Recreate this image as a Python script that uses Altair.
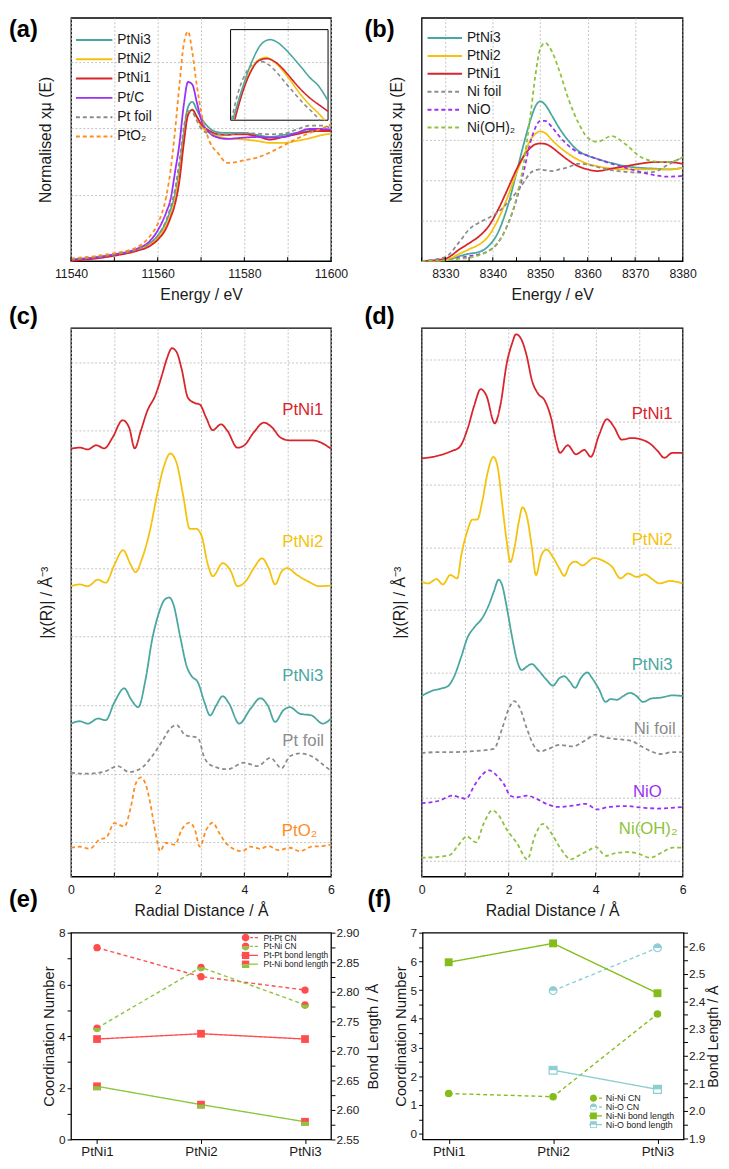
import altair as alt
import pandas as pd

FONT = "Liberation Sans"
TXT = "#1a1a1a"
GRID = "#b4b4b4"
TEAL, YEL, RED, PUR, GRAY, ORA, LIME = "#4aa7a0", "#f4c20d", "#d7252b", "#9b2ff5", "#8c8c8c", "#ff8c1f", "#8dc33c"
E_RED, E_GRN, F_GRN, F_BLU = "#ff4d4d", "#8cc63f", "#84bd1a", "#8ccfd3"
SOLID, DASH = [1, 0], [4, 3]
W_L, W_R = 264, 265
H1, H2, H3 = 247, 557, 210

# ---------------- (a) Pt L3-edge XANES ----------------
A_E = [11540, 11550, 11555, 11558, 11560, 11562, 11563, 11564, 11565, 11566, 11567, 11568, 11569,
       11570, 11572, 11574, 11576, 11578, 11580, 11583, 11586, 11589, 11592, 11595, 11598, 11600]
A_PTNI3 = [0.01, 0.05, 0.085, 0.13, 0.19, 0.30, 0.39, 0.50, 0.69, 0.96, 1.16, 1.20, 1.14, 1.08, 1.00, 0.97,
           0.965, 0.965, 0.965, 0.95, 0.935, 0.95, 0.965, 0.98, 0.985, 0.985]
A_PTNI2 = [0.005, 0.045, 0.08, 0.12, 0.17, 0.27, 0.35, 0.46, 0.64, 0.91, 1.11, 1.14, 1.08, 1.02, 0.965, 0.94,
           0.925, 0.92, 0.915, 0.905, 0.89, 0.89, 0.905, 0.925, 0.95, 0.96]
A_PTNI1 = [0.0, 0.04, 0.075, 0.11, 0.16, 0.25, 0.33, 0.43, 0.60, 0.88, 1.10, 1.14, 1.09, 1.035, 0.98, 0.955,
           0.95, 0.955, 0.955, 0.94, 0.915, 0.935, 0.955, 0.975, 0.98, 0.98]
A_PTC = [0.01, 0.05, 0.09, 0.145, 0.23, 0.37, 0.47, 0.67, 0.88, 1.17, 1.35, 1.33, 1.20, 1.07, 0.965, 0.93,
         0.92, 0.925, 0.93, 0.935, 0.93, 0.935, 0.965, 0.995, 0.995, 0.99]
A_PTFOIL = [0.01, 0.05, 0.085, 0.13, 0.19, 0.31, 0.41, 0.54, 0.75, 1.00, 1.13, 1.12, 1.06, 1.00, 0.96, 0.955,
            0.955, 0.96, 0.965, 0.96, 0.955, 0.96, 0.99, 1.02, 1.02, 1.00]
A_PTO2 = [0.02, 0.06, 0.10, 0.18, 0.28, 0.49, 0.69, 0.98, 1.32, 1.63, 1.73, 1.57, 1.33, 1.13, 0.90, 0.81,
          0.74, 0.745, 0.76, 0.78, 0.82, 0.87, 0.92, 0.965, 1.00, 1.03]
A_ORDER = ["PtNi3", "PtNi2", "PtNi1", "Pt/C", "Pt foil", "PtO₂"]
A_COLORS = [TEAL, YEL, RED, PUR, GRAY, ORA]
A_DASHES = [SOLID, SOLID, SOLID, SOLID, DASH, DASH]
A_TICKS = list(range(11540, 11601, 10))

# inset of (a)
INS_PTNI3_E = [11563.26, 11564.31, 11565.42, 11566.54, 11567.47, 11568.22, 11569.15, 11570.09, 11571.02, 11571.95, 11572.88, 11574.0]
INS_PTNI3 = [0.942, 1.044, 1.135, 1.194, 1.207, 1.199, 1.176, 1.146, 1.114, 1.081, 1.055, 1.004]
INS_PTNI2_E = [11563.37, 11564.31, 11565.24, 11566.17, 11566.99, 11567.85, 11568.78, 11569.71, 11570.83, 11571.76, 11572.88, 11573.63]
INS_PTNI2 = [0.942, 1.039, 1.103, 1.140, 1.148, 1.135, 1.108, 1.073, 1.028, 0.996, 0.964, 0.940]
INS_PTNI1_E = [11563.48, 11564.31, 11565.24, 11566.17, 11567.10, 11568.03, 11568.97, 11569.90, 11571.02, 11572.14, 11573.26, 11574.0]
INS_PTNI1 = [0.942, 1.028, 1.098, 1.137, 1.144, 1.133, 1.108, 1.076, 1.039, 1.009, 0.985, 0.969]
INS_PTFOIL_E = [11563.11, 11563.93, 11564.86, 11565.80, 11566.36, 11567.29, 11568.22, 11569.15, 11570.09, 11571.20, 11572.32, 11573.07]
INS_PTFOIL = [0.942, 1.039, 1.103, 1.130, 1.135, 1.124, 1.098, 1.065, 1.033, 0.996, 0.964, 0.940]

# ---------------- (b) Ni K-edge XANES ----------------
B_E = [8325, 8330, 8333, 8335, 8337, 8339, 8341, 8343, 8345, 8346.5, 8348, 8349, 8350, 8351, 8352.5,
       8354, 8356, 8358, 8360, 8362, 8365, 8368, 8371, 8374, 8377, 8380]
B_PTNI3 = [0.0, 0.01, 0.06, 0.09, 0.11, 0.18, 0.34, 0.65, 1.09, 1.44, 1.75, 1.91, 1.97, 1.93, 1.79, 1.64,
           1.48, 1.36, 1.30, 1.26, 1.21, 1.17, 1.15, 1.14, 1.13, 1.15]
B_PTNI2 = [0.0, 0.01, 0.09, 0.145, 0.20, 0.30, 0.50, 0.77, 1.09, 1.30, 1.50, 1.57, 1.60, 1.58, 1.49, 1.41,
           1.32, 1.25, 1.20, 1.17, 1.14, 1.13, 1.13, 1.13, 1.13, 1.15]
B_PTNI1 = [0.0, 0.03, 0.145, 0.22, 0.30, 0.42, 0.62, 0.87, 1.13, 1.29, 1.40, 1.44, 1.45, 1.445, 1.40, 1.33,
           1.24, 1.17, 1.13, 1.11, 1.14, 1.17, 1.20, 1.22, 1.22, 1.20]
B_NIFOIL = [0.0, 0.05, 0.24, 0.39, 0.47, 0.53, 0.60, 0.71, 0.85, 0.97, 1.09, 1.12, 1.13, 1.12, 1.11, 1.13,
            1.16, 1.20, 1.19, 1.16, 1.12, 1.10, 1.09, 1.10, 1.19, 1.28]
B_NIO = [0.0, 0.01, 0.04, 0.06, 0.08, 0.12, 0.22, 0.43, 0.76, 1.10, 1.48, 1.65, 1.73, 1.73, 1.65, 1.54,
         1.42, 1.34, 1.30, 1.26, 1.20, 1.15, 1.10, 1.06, 1.04, 1.05]
B_NIOH2 = [0.0, 0.01, 0.03, 0.04, 0.07, 0.12, 0.22, 0.43, 0.78, 1.20, 1.83, 2.30, 2.62, 2.69, 2.58, 2.35,
           1.99, 1.71, 1.52, 1.47, 1.54, 1.44, 1.29, 1.23, 1.22, 1.28]
B_ORDER = ["PtNi3", "PtNi2", "PtNi1", "Ni foil", "NiO", "Ni(OH)₂"]
B_COLORS = [TEAL, YEL, RED, GRAY, PUR, LIME]
B_DASHES = [SOLID, SOLID, SOLID, DASH, DASH, DASH]
B_TICKS = list(range(8325, 8381, 5))

# ---------------- (c) Pt FT-EXAFS ----------------
C_PTNI1_R = [0, 0.2, 0.39, 0.58, 0.77, 0.96, 1.19, 1.34, 1.47, 1.61, 1.76, 1.95, 2.1, 2.21, 2.33, 2.44, 2.55,
             2.7, 2.86, 2.97, 3.12, 3.27, 3.46, 3.61, 3.84, 3.99, 4.22, 4.45, 4.64, 4.83, 5.05, 5.58, 6.0]
C_PTNI1 = [12.48, 12.51, 12.46, 12.58, 12.49, 12.81, 13.31, 13.10, 12.49, 13.0, 13.58, 14.05, 14.63, 15.10,
           15.41, 15.29, 14.82, 13.96, 13.81, 13.77, 13.38, 13.02, 13.19, 13.0, 12.51, 12.57, 12.96, 13.24,
           13.1, 12.81, 12.72, 12.72, 12.48]
C_PTNI2_R = [0, 0.2, 0.39, 0.62, 0.8, 1.0, 1.2, 1.38, 1.49, 1.64, 1.83, 1.98, 2.14, 2.29, 2.44, 2.59, 2.74,
             2.89, 3.01, 3.16, 3.27, 3.5, 3.69, 3.84, 4.03, 4.22, 4.41, 4.56, 4.71, 4.86, 4.99, 5.2, 5.47, 5.73, 6.0]
C_PTNI2 = [8.47, 8.52, 8.47, 8.66, 8.57, 9.09, 9.52, 9.09, 8.88, 9.28, 10.14, 11.1, 11.95, 12.34, 12.05,
           11.1, 10.14, 10.14, 9.95, 9.09, 8.76, 9.14, 8.9, 8.47, 8.61, 9.0, 9.28, 9.0, 8.52, 8.9, 9.0, 8.81,
           8.61, 8.47, 8.49]
C_PTNI3_R = [0, 0.2, 0.39, 0.62, 0.8, 1.0, 1.23, 1.38, 1.55, 1.72, 1.87, 2.02, 2.17, 2.27, 2.36, 2.52, 2.67,
             2.78, 2.93, 3.08, 3.21, 3.35, 3.5, 3.65, 3.88, 4.14, 4.37, 4.54, 4.71, 4.9, 5.05, 5.28, 5.55, 5.81, 6.0]
C_PTNI3 = [4.46, 4.53, 4.46, 4.61, 4.56, 5.08, 5.49, 5.18, 4.94, 5.75, 6.9, 7.66, 8.09, 8.14, 7.95, 6.99,
           6.13, 5.85, 5.66, 5.08, 4.7, 4.99, 5.26, 5.04, 4.46, 4.89, 5.2, 4.99, 4.51, 4.85, 4.94, 4.75, 4.7,
           4.46, 4.61]
C_PTFOIL_R = [0, 0.36, 0.77, 1.08, 1.34, 1.64, 1.87, 2.1, 2.29, 2.44, 2.63, 2.93, 3.08, 3.27, 3.61, 3.99,
              4.3, 4.6, 4.86, 5.05, 5.28, 5.55, 5.81, 6.0]
C_PTFOIL = [3.03, 3.0, 3.06, 3.22, 3.05, 3.18, 3.51, 3.94, 4.32, 4.42, 4.13, 4.04, 3.46, 3.22, 3.13, 3.32,
            3.22, 3.46, 3.16, 3.51, 3.59, 3.51, 3.27, 3.08]
C_PTO2_R = [0, 0.2, 0.43, 0.66, 0.81, 1.0, 1.23, 1.38, 1.49, 1.61, 1.72, 1.83, 1.95, 2.06, 2.17, 2.4, 2.55,
            2.74, 2.86, 2.97, 3.12, 3.27, 3.42, 3.61, 3.95, 4.14, 4.37, 4.56, 4.79, 5.05, 5.28, 5.55, 5.81, 6.0]
C_PTO2 = [0.84, 0.87, 0.81, 1.08, 1.13, 1.56, 1.46, 2.03, 2.7, 2.89, 2.7, 2.13, 1.27, 0.74, 0.98, 0.93, 1.36,
          1.57, 1.36, 0.87, 1.36, 1.57, 1.27, 0.93, 0.74, 0.87, 0.81, 0.89, 0.77, 0.84, 0.74, 0.87, 0.89, 0.93]
C_ORDER = ["PtNi1", "PtNi2", "PtNi3", "Pt foil", "PtO₂"]
C_COLORS = [RED, YEL, TEAL, GRAY, ORA]
C_DASHES = [SOLID, SOLID, SOLID, DASH, DASH]
C_LAB_X = [5.82, 5.82, 5.82, 5.84, 5.68]
C_LAB_Y = [13.62, 9.76, 5.84, 3.95, 1.32]

# ---------------- (d) Ni FT-EXAFS ----------------
D_PTNI1_R = [0, 0.26, 0.49, 0.68, 0.87, 1.06, 1.21, 1.36, 1.49, 1.68, 1.81, 1.96, 2.08, 2.17, 2.28, 2.42,
             2.53, 2.68, 2.83, 2.98, 3.09, 3.18, 3.36, 3.55, 3.74, 3.89, 4.08, 4.26, 4.42, 4.6, 4.83, 5.06,
             5.28, 5.43, 5.58, 5.77, 6.0]
D_PTNI1 = [13.34, 13.39, 13.47, 13.57, 13.7, 14.3, 15.03, 15.55, 15.34, 14.46, 15.03, 16.39, 17.01, 17.3,
           17.17, 16.59, 15.86, 15.4, 15.19, 14.61, 13.89, 13.52, 13.76, 13.47, 13.61, 13.39, 14.09, 14.59,
           14.35, 13.94, 13.99, 13.94, 13.78, 13.57, 13.36, 13.52, 13.52]
D_PTNI2_R = [0, 0.15, 0.34, 0.49, 0.66, 0.82, 0.91, 1.04, 1.17, 1.28, 1.4, 1.51, 1.65, 1.75, 1.85, 1.96,
             2.04, 2.13, 2.23, 2.32, 2.42, 2.53, 2.63, 2.75, 2.87, 3.02, 3.17, 3.28, 3.4, 3.53, 3.7, 3.96,
             4.23, 4.38, 4.57, 4.75, 4.94, 5.13, 5.28, 5.47, 5.7, 6.0]
D_PTNI2 = [9.41, 9.35, 9.49, 9.32, 9.62, 9.51, 10.24, 10.97, 11.39, 11.39, 12.01, 12.84, 13.39, 13.05,
           11.91, 10.66, 10.03, 10.45, 11.28, 11.78, 11.49, 10.55, 9.62, 10.24, 10.43, 10.19, 9.82, 9.59,
           9.93, 10.05, 9.93, 10.16, 10.03, 9.88, 9.51, 9.67, 9.56, 9.64, 9.51, 9.35, 9.43, 9.35]
D_PTNI3_R = [0, 0.23, 0.42, 0.6, 0.75, 0.91, 1.06, 1.21, 1.4, 1.55, 1.66, 1.77, 1.85, 1.96, 2.08, 2.19, 2.3,
             2.42, 2.53, 2.68, 2.87, 3.02, 3.17, 3.28, 3.4, 3.53, 3.66, 3.81, 3.92, 4.08, 4.23, 4.34, 4.49,
             4.64, 4.79, 4.94, 5.09, 5.28, 5.51, 5.77, 6.0]
D_PTNI3 = [5.76, 5.92, 5.99, 6.07, 6.39, 7.01, 7.64, 7.95, 8.26, 8.68, 9.09, 9.47, 9.3, 8.57, 7.64, 6.91,
           6.59, 6.7, 6.78, 6.59, 6.28, 6.09, 6.33, 6.39, 6.23, 6.02, 6.33, 6.51, 6.33, 5.97, 5.57, 5.66,
           5.64, 5.76, 5.86, 5.76, 5.57, 5.68, 5.71, 5.78, 5.76]
D_NIFOIL_R = [0, 0.38, 0.75, 1.25, 1.66, 1.85, 2.0, 2.13, 2.25, 2.42, 2.57, 2.72, 2.91, 3.17, 3.47, 3.77,
              4.0, 4.23, 4.53, 4.83, 5.06, 5.28, 5.51, 5.77, 6.0]
D_NIFOIL = [3.94, 3.97, 3.97, 4.01, 4.07, 4.72, 5.34, 5.6, 5.4, 4.72, 4.2, 3.99, 4.07, 4.2, 4.15, 4.35,
            4.53, 4.43, 4.38, 4.32, 4.15, 3.99, 3.91, 3.97, 3.97]
D_NIO_R = [0, 0.38, 0.72, 0.87, 1.02, 1.21, 1.4, 1.55, 1.7, 1.89, 2.04, 2.19, 2.42, 2.64, 2.87, 3.13, 3.47,
           3.77, 4.04, 4.3, 4.68, 5.06, 5.43, 6.0]
D_NIO = [2.34, 2.41, 2.58, 2.53, 2.48, 2.9, 3.26, 3.39, 3.26, 2.95, 2.58, 2.53, 2.58, 2.48, 2.32, 2.22,
         2.26, 2.32, 2.14, 2.22, 2.25, 2.2, 2.17, 2.22]
D_NIOH2_R = [0, 0.38, 0.64, 0.83, 1.04, 1.25, 1.43, 1.62, 1.77, 1.96, 2.19, 2.43, 2.6, 2.79, 2.98, 3.21,
             3.43, 3.66, 3.85, 4.0, 4.23, 4.49, 4.75, 5.02, 5.25, 5.51, 5.77, 6.0]
D_NIOH2 = [0.6, 0.63, 0.68, 0.97, 1.28, 1.09, 1.7, 2.11, 1.96, 1.49, 1.07, 0.55, 1.28, 1.68, 1.39, 0.86,
           0.55, 0.71, 0.84, 0.95, 0.66, 0.76, 0.78, 0.71, 0.6, 0.76, 0.92, 0.92]
D_ORDER = ["PtNi1", "PtNi2", "PtNi3", "Ni foil", "NiO", "Ni(OH)₂"]
D_COLORS = [RED, YEL, TEAL, GRAY, PUR, LIME]
D_DASHES = [SOLID, SOLID, SOLID, DASH, DASH, DASH]
D_LAB_X = [5.77, 5.77, 5.77, 5.84, 5.52, 5.88]
D_LAB_Y = [14.75, 10.72, 6.75, 4.72, 2.69, 1.5]

# ---------------- (e), (f) fitting results ----------------
CATS = ["PtNi1", "PtNi2", "PtNi3"]
E_PTPT_CN = [7.42, 6.30, 5.78]
E_PTNI_CN = [4.31, 6.66, 5.21]
E_PTPT_BL = [2.720, 2.729, 2.720]
E_PTNI_BL = [2.640, 2.609, 2.580]
E_NAMES = ["Pt-Pt CN", "Pt-Ni CN", "Pt-Pt bond length", "Pt-Ni bond length"]
F_NINI_CN = [1.40, 1.29, 4.17]
F_NIO_CN = [None, 4.98, 6.47]
F_NINI_BL = [2.542, 2.611, 2.429]
F_NIO_BL = [None, 2.148, 2.078]
F_NAMES = ["Ni-Ni CN", "Ni-O CN", "Ni-Ni bond length", "Ni-O bond length"]
E_BL_TICKS = [2.55, 2.575, 2.6, 2.625, 2.65, 2.675, 2.7, 2.725, 2.75, 2.775, 2.8, 2.825, 2.85, 2.875, 2.9]
F_CN_TICKS = [0, 0.5, 1, 1.5, 2, 2.5, 3, 3.5, 4, 4.5, 5, 5.5, 6, 6.5, 7]
F_BL_TICKS = [1.9, 1.95, 2.0, 2.05, 2.1, 2.15, 2.2, 2.25, 2.3, 2.35, 2.4, 2.45, 2.5, 2.55, 2.6, 2.65]


# ---------------- helpers ----------------
def long_xy(triples):
    rows = []
    for name, xs, ys in triples:
        for x, y in zip(xs, ys):
            rows.append({"series": name, "x": x, "y": y})
    return pd.DataFrame(rows)


def panel_label(text, px, py):
    return alt.Chart(pd.DataFrame({"t": [text]})).mark_text(
        font=FONT, fontSize=24, fontWeight="bold", align="left", baseline="middle", color="black"
    ).encode(text="t:N", x=alt.value(px), y=alt.value(py))


def x_axis(values, every, title):
    return alt.Axis(values=values, format="d", labelFlush=False,
                    labelExpr=f"datum.value % {every} === 0 ? datum.label : ''",
                    ticks=False, domain=False, grid=True, gridColor=GRID, gridDash=[2, 2], gridWidth=0.8,
                    title=title, labelFontSize=12.5, titleFontSize=16, labelPadding=7, titlePadding=7)


def y_axis(values, title, pad):
    return alt.Axis(values=values, labels=False, ticks=False, domain=False, grid=True,
                    gridColor=GRID, gridDash=[2, 2], gridWidth=0.8, title=title,
                    titleFontSize=16, titlePadding=pad)


def inward_ticks(values, xenc, lo, hi):
    return alt.Chart(pd.DataFrame({"x": values})).mark_rule(color="black", strokeWidth=1).encode(
        x=xenc, y=alt.datum(lo), y2=alt.datum(hi))


def xanes_legend(lx, ly, size, fs, pad):
    return alt.Legend(title=None, orient="none", legendX=lx, legendY=ly, symbolType="stroke",
                      symbolSize=size, symbolStrokeWidth=2, labelFontSize=fs, labelOffset=4,
                      clipHeight=fs + 3, rowPadding=pad, labelColor=TXT)


# ---------------- panel (a) ----------------
xa = alt.X("x:Q", scale=alt.Scale(domain=[11540, 11600], nice=False, zero=False),
           axis=x_axis(A_TICKS, 20, "Energy / eV"))
ya = alt.Y("y:Q", scale=alt.Scale(domain=[0, 1.833], nice=False, zero=False),
           axis=y_axis([0.5, 1.0, 1.5], "Normalised xμ (E)", 18))
df_a = long_xy([(n, A_E, v) for n, v in zip(A_ORDER, [A_PTNI3, A_PTNI2, A_PTNI1, A_PTC, A_PTFOIL, A_PTO2])])
leg_a = xanes_legend(4, 14, 1369, 14, 2.6)
lines_a = alt.Chart(df_a).mark_line(strokeWidth=1.8, interpolate="monotone").encode(
    x=xa, y=ya,
    color=alt.Color("series:N", scale=alt.Scale(domain=A_ORDER, range=A_COLORS), legend=leg_a),
    strokeDash=alt.StrokeDash("series:N", scale=alt.Scale(domain=A_ORDER, range=A_DASHES), legend=leg_a))
main_a = alt.layer(lines_a, inward_ticks(A_TICKS, xa, 0, 0.0297), panel_label("(a)", -63, 13))

ins_x = alt.X("x:Q", scale=alt.Scale(domain=[11563, 11574], range=[162, 261], nice=False, zero=False), axis=None)
ins_y = alt.Y("y:Q", scale=alt.Scale(domain=[0.94, 1.24], range=[104, 12], nice=False, zero=False), axis=None)
ins_box = alt.Chart(pd.DataFrame({"x": [11563], "x2": [11574], "y": [0.94], "y2": [1.24]})).mark_rect(
    fillOpacity=0, stroke="black", strokeWidth=1).encode(x=ins_x, x2="x2:Q", y=ins_y, y2="y2:Q")
ins_layers = [ins_box]
for name, xs, ys, col, dsh in [("Pt foil", INS_PTFOIL_E, INS_PTFOIL, GRAY, DASH),
                               ("PtNi2", INS_PTNI2_E, INS_PTNI2, YEL, SOLID),
                               ("PtNi1", INS_PTNI1_E, INS_PTNI1, RED, SOLID),
                               ("PtNi3", INS_PTNI3_E, INS_PTNI3, TEAL, SOLID)]:
    ins_layers.append(alt.Chart(long_xy([(name, xs, ys)])).mark_line(
        color=col, strokeDash=dsh, strokeWidth=1.6, interpolate="monotone").encode(x=ins_x, y=ins_y))
inset_a = alt.layer(*ins_layers)
pa = alt.layer(main_a, inset_a).resolve_scale(x="independent", y="independent").properties(width=W_L, height=H1)

# ---------------- panel (b) ----------------
xb = alt.X("x:Q", scale=alt.Scale(domain=[8325, 8380], nice=False, zero=False),
           axis=x_axis(list(range(8330, 8381, 10)), 10, "Energy / eV"))
yb = alt.Y("y:Q", scale=alt.Scale(domain=[0, 3.0], nice=False, zero=False),
           axis=y_axis([0.5, 1.0, 1.5], "Normalised xμ (E)", 17))
df_b = long_xy([(n, B_E, v) for n, v in zip(B_ORDER, [B_PTNI3, B_PTNI2, B_PTNI1, B_NIFOIL, B_NIO, B_NIOH2])])
leg_b = xanes_legend(5, 12, 1225, 14, 1.2)
lines_b = alt.Chart(df_b).mark_line(strokeWidth=1.8, interpolate="monotone").encode(
    x=xb, y=yb,
    color=alt.Color("series:N", scale=alt.Scale(domain=B_ORDER, range=B_COLORS), legend=leg_b),
    strokeDash=alt.StrokeDash("series:N", scale=alt.Scale(domain=B_ORDER, range=B_DASHES), legend=leg_b))
pb = alt.layer(lines_b, inward_ticks(B_TICKS, xb, 0, 0.0486), panel_label("(b)", -58, 13)).properties(
    width=W_R, height=H1)


# ---------------- panels (c), (d) ----------------
def exafs_panel(triples, order, colors, dashes, lab_x, lab_y, ydom, ygrid, tick_len, labels, width, title_pad):
    xs = alt.X("x:Q", scale=alt.Scale(domain=[0, 6], nice=False, zero=False),
               axis=x_axis([0, 1, 2, 3, 4, 5, 6], 2, "Radial Distance / Å"))
    ys = alt.Y("y:Q", scale=alt.Scale(domain=ydom, nice=False, zero=False),
               axis=y_axis(ygrid, "|χ(R)| / Å⁻³", title_pad))
    color = alt.Color("series:N", scale=alt.Scale(domain=order, range=colors), legend=None)
    dash = alt.StrokeDash("series:N", scale=alt.Scale(domain=order, range=dashes), legend=None)
    lines = alt.Chart(long_xy(triples)).mark_line(strokeWidth=1.8, interpolate="monotone").encode(
        x=xs, y=ys, color=color, strokeDash=dash)
    lab = alt.Chart(pd.DataFrame({"series": order, "x": lab_x, "y": lab_y})).mark_text(
        align="right", baseline="middle", fontSize=17, font=FONT).encode(x=xs, y=ys, text="series:N", color=color)
    tk = inward_ticks([1, 2, 3, 4, 5], xs, ydom[0], ydom[0] + tick_len)
    return alt.layer(lines, lab, tk, *labels).properties(width=width, height=H2)


pc = exafs_panel([("PtNi1", C_PTNI1_R, C_PTNI1), ("PtNi2", C_PTNI2_R, C_PTNI2), ("PtNi3", C_PTNI3_R, C_PTNI3),
                  ("Pt foil", C_PTFOIL_R, C_PTFOIL), ("PtO₂", C_PTO2_R, C_PTO2)],
                 C_ORDER, C_COLORS, C_DASHES, C_LAB_X, C_LAB_Y, [0, 16], list(range(1, 16)), 0.115,
                 [panel_label("(c)", -63, -11), panel_label("(e)", -63, H2 + 24)], W_L, 17)
pdd = exafs_panel([("PtNi1", D_PTNI1_R, D_PTNI1), ("PtNi2", D_PTNI2_R, D_PTNI2), ("PtNi3", D_PTNI3_R, D_PTNI3),
                   ("Ni foil", D_NIFOIL_R, D_NIFOIL), ("NiO", D_NIO_R, D_NIO), ("Ni(OH)₂", D_NIOH2_R, D_NIOH2)],
                  D_ORDER, D_COLORS, D_DASHES, D_LAB_X, D_LAB_Y, [0, 17.5], [k + 0.5 for k in range(17)], 0.126,
                  [panel_label("(d)", -58, -11), panel_label("(f)", -55, H2 + 24)], W_R, 14)


# ---------------- symbol paths ----------------
def p_rect(x1, x2, t):
    return f"M{x1} {-t}L{x2} {-t}L{x2} {t}L{x1} {t}Z"


def p_circle(r):
    return f"M{-r} 0A{r} {r} 0 1 1 {r} 0A{r} {r} 0 1 1 {-r} 0Z"


def p_half_circle(r, top):
    return f"M{-r} 0A{r} {r} 0 0 {1 if top else 0} {r} 0Z"


def p_half_ring(r, ri):
    return f"M{-r} 0A{r} {r} 0 0 0 {r} 0L{ri} 0A{ri} {ri} 0 0 1 {-ri} 0Z"


def p_square(s):
    return f"M{-s} {-s}L{s} {-s}L{s} {s}L{-s} {s}Z"


def p_half_square(s, top):
    if top:
        return f"M{-s} {-s}L{s} {-s}L{s} 0L{-s} 0Z"
    return f"M{-s} 0L{s} 0L{s} {s}L{-s} {s}Z"


def p_u_ring(s, si):
    return f"M{-s} 0L{-s} {s}L{s} {s}L{s} 0L{si} 0L{si} {si}L{-si} {si}L{-si} 0Z"


def dashes(segs, t):
    return "".join(p_rect(a, b, t) for a, b in segs)


T = 0.22
E_DASHES = [(-4.2, -3.1), (-2.5, -1.6), (1.6, 2.5), (3.1, 4.2)]
E_SHAPES_A = [dashes(E_DASHES, T) + p_circle(1.33),
              dashes(E_DASHES, T) + p_half_circle(1.33, False),
              p_rect(-4.2, 4.2, T) + p_square(1.25),
              p_rect(-4.2, -1.25, T) + p_rect(1.25, 4.2, T) + p_half_square(1.25, False)]
E_SHAPES_B = [p_circle(1.33), p_half_circle(1.33, True), p_square(1.25), p_half_square(1.25, True)]
F_DASHES = [(-2.9, -1.9), (1.9, 2.9)]
F_SHAPES = [dashes(F_DASHES, T) + p_circle(1.2),
            dashes(F_DASHES, T) + p_half_circle(1.2, True) + p_half_ring(1.2, 0.9),
            p_rect(-2.9, 2.9, T) + p_square(1.15),
            p_rect(-2.9, -1.15, T) + p_rect(1.15, 2.9, T) + p_half_square(1.15, True) + p_u_ring(1.15, 0.85)]
HALF_BOTTOM_C = p_half_circle(1.128, False)
HALF_TOP_C = p_half_circle(1.128, True)
HALF_BOTTOM_S = p_half_square(1, False)
HALF_TOP_S = p_half_square(1, True)


def legend_carrier(names, colors, shapes, lx, ly, fs, loff, pad, label_opacity=1):
    leg = alt.Legend(title=None, orient="none", legendX=lx, legendY=ly, symbolSize=36, symbolStrokeWidth=0,
                     labelFontSize=fs, labelOffset=loff, clipHeight=8, rowPadding=pad, labelColor=TXT,
                     labelOpacity=label_opacity)
    return alt.Chart(pd.DataFrame({"series": names})).mark_point(filled=True, opacity=1).encode(
        color=alt.Color("series:N", scale=alt.Scale(domain=names, range=colors), legend=leg),
        shape=alt.Shape("series:N", scale=alt.Scale(domain=names, range=shapes), legend=leg),
    ).transform_filter("false")


def cat_x():
    return alt.X("cat:N", scale=alt.Scale(type="point", domain=CATS, padding=0.25),
                 axis=alt.Axis(title=None, labelAngle=0, labelFontSize=13.5, labelPadding=1, tickSize=4,
                               domain=False, grid=False))


def yq(field, dom, orient, values, expr, title, lpad, tpad, tfs=15):
    extra = {"titleAngle": 270, "titleBaseline": "top"} if orient == "right" else {}
    return alt.Y(f"{field}:Q", scale=alt.Scale(domain=dom, nice=False, zero=False),
                 axis=alt.Axis(orient=orient, values=values, labelExpr=expr, title=title, tickSize=4,
                               labelPadding=lpad, titlePadding=tpad, labelFontSize=12, titleFontSize=tfs,
                               domain=False, grid=False, **extra))


def line(df, y, color, dash):
    return alt.Chart(df).mark_line(color=color, strokeDash=dash, strokeWidth=1.4).encode(x=cat_x(), y=y)


def pts(df, y, shape, size, **kw):
    return alt.Chart(df).mark_point(shape=shape, size=size, opacity=1, filled=True, **kw).encode(x=cat_x(), y=y)


# ---------------- panel (e) ----------------
df_e = pd.DataFrame({"cat": CATS, "ptpt_cn": E_PTPT_CN, "ptni_cn": E_PTNI_CN,
                     "ptpt_bl": E_PTPT_BL, "ptni_bl": E_PTNI_BL})
ecn = lambda f: yq(f, [0, 8], "left", list(range(9)), "datum.value % 2 === 0 ? format(datum.value, 'd') : ''",
                   "Coordination Number", 2, 2)
ebl = lambda f: yq(f, [2.55, 2.90], "right", E_BL_TICKS,
                   "round(datum.value * 1000) % 50 === 0 ? format(datum.value, '.2f') : ''",
                   "Bond Length / Å", 1, 7)
cn_e = alt.layer(
    line(df_e, ecn("ptpt_cn"), E_RED, [4, 3]), line(df_e, ecn("ptni_cn"), E_GRN, [4, 3]),
    pts(df_e, ecn("ptpt_cn"), "circle", 55, color=E_RED),
    pts(df_e, ecn("ptni_cn"), "circle", 55, color=E_RED),
    pts(df_e, ecn("ptni_cn"), HALF_BOTTOM_C, 55, color=E_GRN))
bl_e = alt.layer(
    line(df_e, ebl("ptpt_bl"), E_RED, SOLID), line(df_e, ebl("ptni_bl"), E_GRN, SOLID),
    pts(df_e, ebl("ptpt_bl"), "square", 62, color=E_RED),
    pts(df_e, ebl("ptni_bl"), "square", 62, color=E_RED),
    pts(df_e, ebl("ptni_bl"), HALF_BOTTOM_S, 62, color=E_GRN))
legA_e = legend_carrier(E_NAMES, [E_RED, E_GRN, E_RED, E_GRN], E_SHAPES_A, 173, 1, 8.5, 14, -0.2)
legB_e = legend_carrier(E_NAMES, ["rgba(0,0,0,0)", E_RED, "rgba(0,0,0,0)", E_RED], E_SHAPES_B, 173, 1, 8.5, 14,
                        -0.2, 0)
pe = alt.layer(cn_e, bl_e, legA_e, legB_e).resolve_scale(
    y="independent", color="independent", shape="independent").properties(width=W_L, height=H3)

# ---------------- panel (f) ----------------
df_f = pd.DataFrame({"cat": CATS, "nini_cn": F_NINI_CN, "nio_cn": F_NIO_CN,
                     "nini_bl": F_NINI_BL, "nio_bl": F_NIO_BL})
fcn = lambda f: yq(f, [-0.2, 7], "left", F_CN_TICKS, "datum.value % 1 === 0 ? format(datum.value, 'd') : ''",
                   "Coordination Number", 2, 2)
fbl = lambda f: yq(f, [1.895, 2.65], "right", F_BL_TICKS,
                   "round(datum.value * 100) % 10 === 0 ? format(datum.value, '.1f') : ''",
                   "Bond Length / Å", 1, 2, 14.5)
cn_f = alt.layer(
    line(df_f, fcn("nini_cn"), F_GRN, [4, 3]), line(df_f, fcn("nio_cn"), F_BLU, [4, 3]),
    pts(df_f, fcn("nini_cn"), "circle", 60, color=F_GRN),
    pts(df_f, fcn("nio_cn"), "circle", 60, fill="white", stroke=F_BLU, strokeWidth=1.2),
    pts(df_f, fcn("nio_cn"), HALF_TOP_C, 60, color=F_BLU))
bl_f = alt.layer(
    line(df_f, fbl("nini_bl"), F_GRN, SOLID), line(df_f, fbl("nio_bl"), F_BLU, SOLID),
    pts(df_f, fbl("nini_bl"), "square", 64, color=F_GRN),
    pts(df_f, fbl("nio_bl"), "square", 64, fill="white", stroke=F_BLU, strokeWidth=1.2),
    pts(df_f, fbl("nio_bl"), HALF_TOP_S, 64, color=F_BLU))
leg_f = legend_carrier(F_NAMES, [F_GRN, F_BLU, F_GRN, F_BLU], F_SHAPES, 169, 164, 9, 8, -0.3)
pf = alt.layer(cn_f, bl_f, leg_f).resolve_scale(
    y="independent", color="independent", shape="independent").properties(width=W_R, height=H3)

# ---------------- layout ----------------
IND = dict(color="independent", strokeDash="independent", shape="independent")
row1 = alt.hconcat(pa, pb, spacing=15).resolve_scale(**IND)
row2 = alt.hconcat(pc, pdd, spacing=28).resolve_scale(**IND)
row3 = alt.hconcat(pe, pf, spacing=10).resolve_scale(**IND)
top = alt.vconcat(row1, row2, spacing=0).resolve_scale(**IND)
chart = alt.vconcat(top, row3, spacing=6).resolve_scale(**IND).properties(padding=0)
chart = chart.configure(font=FONT).configure_view(
    stroke="black", strokeWidth=1.3).configure_axis(
    labelColor=TXT, titleColor=TXT, titleFontWeight="normal", tickColor="black", labelFont=FONT,
    titleFont=FONT).configure_legend(labelFont=FONT)

chart.save("out.html", embed_options={"renderer": "svg", "actions": False})
